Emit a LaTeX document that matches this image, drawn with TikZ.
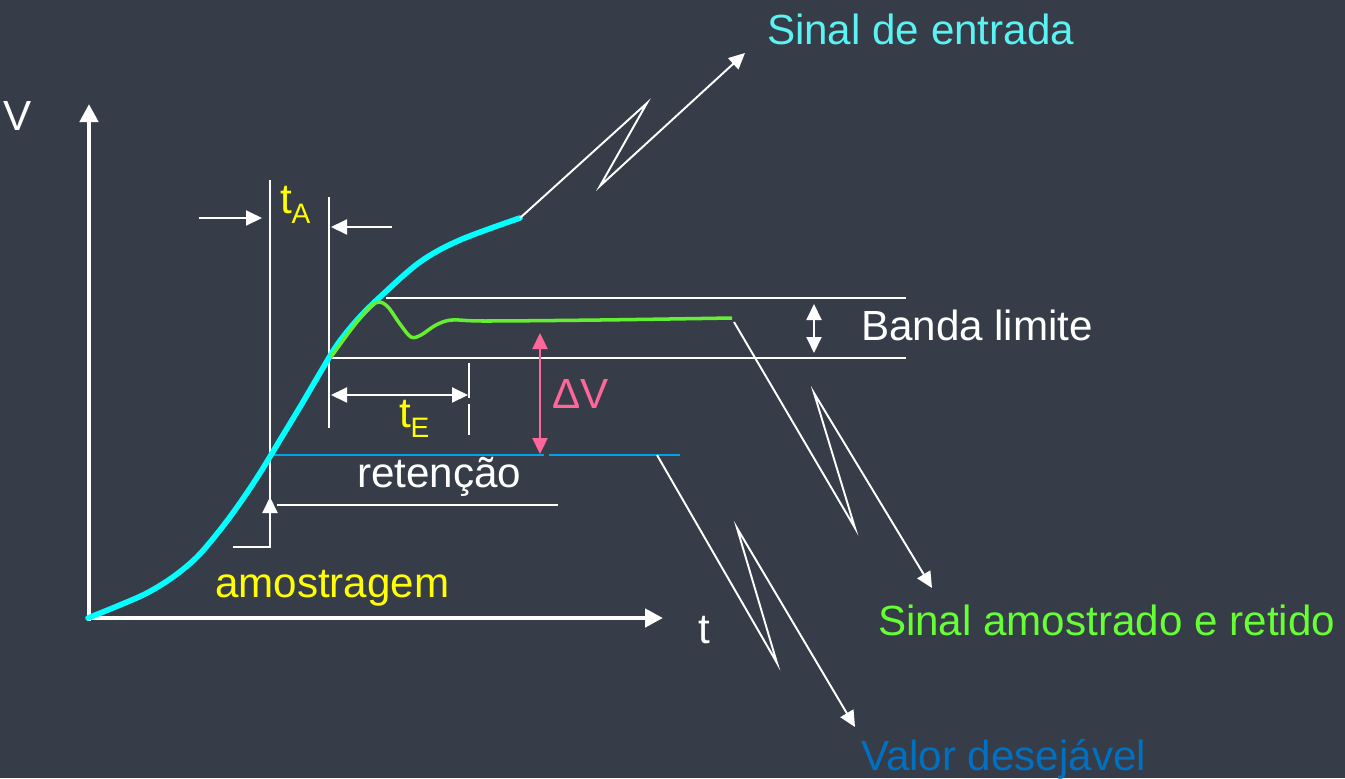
\documentclass[tikz,border=0pt]{standalone}
\usepackage{fontspec}
\setmainfont{Liberation Sans}
\usetikzlibrary{arrows.meta}
\definecolor{bg}{HTML}{373D48}
\definecolor{cyancurve}{HTML}{00FFFF}
\definecolor{cyantext}{HTML}{5AF2F2}
\definecolor{greencurve}{HTML}{66EE33}
\definecolor{greentext}{HTML}{66FF33}
\definecolor{yell}{HTML}{FFFF00}
\definecolor{pinkd}{HTML}{FF6699}
\definecolor{blueline}{HTML}{00A2E8}
\definecolor{bluetext}{HTML}{0070C0}
\begin{document}
\begin{tikzpicture}[x=0.02cm,y=-0.02cm,
  lbl/.style={anchor=base west, inner sep=0pt, outer sep=0pt, font=\fontsize{24}{28}\selectfont},
  thinw/.style={draw=white, line width=1.1pt},
  tip/.style={-{Triangle[length=0.32cm,width=0.3cm]}},
  dtip/.style={{Triangle[length=0.32cm,width=0.3cm]}-{Triangle[length=0.32cm,width=0.3cm]}},
  axis/.style={draw=white, line width=2.8pt, -{Triangle[length=0.36cm,width=0.36cm]}}]
\fill[bg] (0,0) rectangle (1345,778);
\useasboundingbox (0,0) rectangle (1345,778);

% key coordinates
\coordinate (O) at (88,618);
\coordinate (Vtip) at (89,104);
\coordinate (ttip) at (663,618);

% axes
\draw[axis] (89,621) -- (Vtip);
\draw[axis] (86,618) -- (ttip);

% band lines
\coordinate (bandTL) at (386,298);
\coordinate (bandTR) at (906,298);
\coordinate (bandBL) at (332,358);
\coordinate (bandBR) at (906,358);
\draw[thinw] (bandTL) -- (bandTR);
\draw[thinw] (bandBL) -- (bandBR);
\coordinate (bA) at (814,304);
\coordinate (bB) at (814,353);
\draw[thinw, dtip] (bA) -- (bB);

% t_A lines
\coordinate (vL1) at (270,180);
\coordinate (vL2) at (270,547);
\coordinate (vL3) at (233,547);
\draw[thinw] (vL1) -- (vL2) -- (vL3);
\coordinate (vR1) at (329,197);
\coordinate (vR2) at (329,428);
\draw[thinw] (vR1) -- (vR2);
\coordinate (aL1) at (199,218);
\coordinate (aL2) at (262,218);
\draw[thinw, tip] (aL1) -- (aL2);
\coordinate (aR1) at (392,227);
\coordinate (aR2) at (331,227);
\draw[thinw, tip] (aR1) -- (aR2);

% retencao line and upward arrow
\coordinate (rL) at (277,505);
\coordinate (rR) at (558,505);
\draw[thinw] (rL) -- (rR);
\coordinate (up1) at (270,512);
\coordinate (up2) at (270,497);
\draw[thinw, tip] (up1) -- (up2);

% t_E
\coordinate (tE1) at (469,363);
\coordinate (tE2) at (469,398);
\coordinate (tE3) at (469,404);
\coordinate (tE4) at (469,435);
\draw[thinw] (tE1) -- (tE2);
\draw[thinw] (tE3) -- (tE4);
\coordinate (tEa) at (331,395);
\coordinate (tEb) at (468,395);
\draw[thinw, dtip] (tEa) -- (tEb);

% blue desired value line
\coordinate (bl1) at (272,455);
\coordinate (bl2) at (544,455);
\coordinate (bl3) at (549,455);
\coordinate (bl4) at (680,455);
\draw[blueline, line width=1.5pt] (bl1) -- (bl2);
\draw[blueline, line width=1.5pt] (bl3) -- (bl4);

% Delta V arrow
\coordinate (dv1) at (540,333);
\coordinate (dv2) at (540,454);
\draw[draw=pinkd, line width=1.3pt, {Triangle[length=0.32cm,width=0.3cm]}-{Triangle[length=0.32cm,width=0.3cm]}] (dv1) -- (dv2);

% input signal (cyan)
\draw[cyancurve, line width=3.2pt, line cap=round] plot[smooth, tension=0.55] coordinates
  {(88,618) (120,605) (147,593) (173,577) (197,557) (220,530) (240,503) (260,473) (280,440) (300,407) (320,373) (337,345) (357,320) (380,297) (420,262) (460,240) (520,218)};

% sampled & held signal (green)
\draw[greencurve, line width=2pt] plot[smooth, tension=0.55] coordinates
  {(331,357) (353,327) (370,307) (379,302) (388,307) (400,324) (411,337) (421,335) (436,325) (452,320) (485,321) (600,320) (732,318)};

% leaders
\coordinate (c1) at (520,218);
\coordinate (c2) at (647,103);
\coordinate (c3) at (600,186);
\coordinate (c4) at (745,53);
\draw[thinw, tip] (c1) -- (c2) -- (c3) -- (c4);
\coordinate (g1) at (734,322);
\coordinate (g2) at (855,528);
\coordinate (g3) at (814,393);
\coordinate (g4) at (932,588);
\draw[thinw, tip] (g1) -- (g2) -- (g3) -- (g4);
\coordinate (b1) at (657,455);
\coordinate (b2) at (777,663);
\coordinate (b3) at (737,528);
\coordinate (b4) at (855,727);
\draw[thinw, tip] (b1) -- (b2) -- (b3) -- (b4);

% labels
\node[lbl, text=white] (Vl) at (4,130) {V};
\node[lbl, text=white] (tl) at (698,643) {t};
\node[lbl, text=cyantext] (entrada) at (767,44) {Sinal de entrada};
\node[lbl, text=white] (banda) at (861,340) {Banda limite};
\node[lbl, text=greentext] (retido) at (878,635) {Sinal amostrado e retido};
\node[lbl, text=bluetext] (desej) at (861,770) {Valor desejável};
\node[lbl, text=white] (reten) at (357,487) {retenção};
\node[lbl, text=yell] (amost) at (215,597) {amostragem};
\node[lbl, text=yell] (tA) at (280,213) {t\raisebox{-5.7pt}{\fontsize{16}{18}\selectfont A}};
\node[lbl, text=yell] (tE) at (399,427) {t\raisebox{-5.7pt}{\fontsize{16}{18}\selectfont E}};
\node[lbl, text=pinkd] (dV) at (552,408) {ΔV};
\end{tikzpicture}
\end{document}
